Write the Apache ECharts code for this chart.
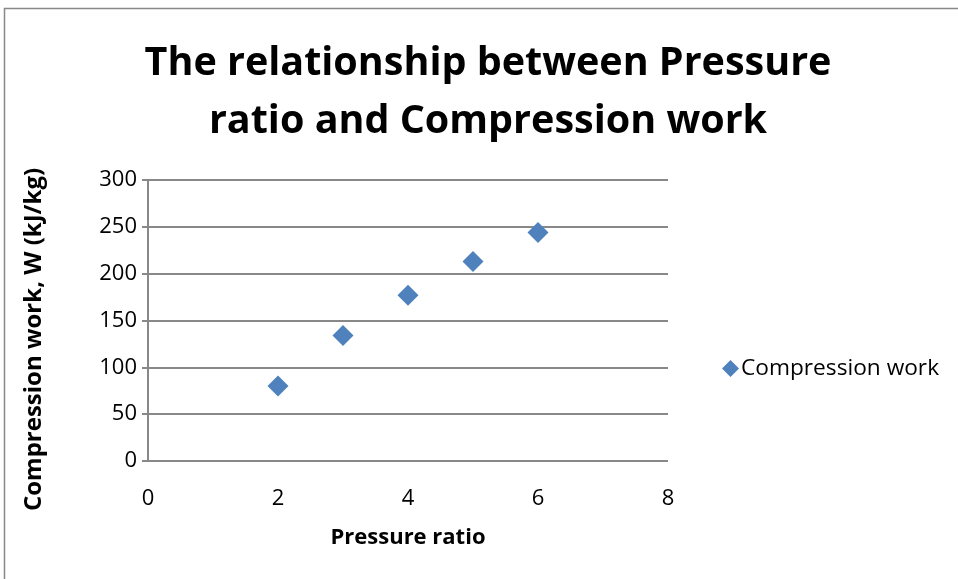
<!DOCTYPE html>
<html><head><meta charset="utf-8">
<script src="https://cdn.jsdelivr.net/npm/echarts@6/dist/echarts.min.js"></script>
<style>html,body{margin:0;padding:0;background:#fff}#c{width:958px;height:579px}</style>
</head><body><div id="c"></div>
<script>
const pressureRatio = [2, 3, 4, 5, 6];
const compressionWork = [80, 134, 177, 213, 244];
const seriesName = 'Compression work';
const titleText = 'The relationship between Pressure\nratio and Compression work';
const xName = 'Pressure ratio';
const yName = 'Compression work, W (kJ/kg)';

const chart = echarts.init(document.getElementById('c'), null, {renderer: 'canvas'});
const font = 'Open Sans';
chart.setOption({
  animation: false,
  backgroundColor: '#fff',
  graphic: [{type: 'rect', shape: {x: 4.5, y: 8.5, width: 1000, height: 1000}, style: {fill: 'none', stroke: '#888', lineWidth: 1.5}, z: -1}],
  title: {text: titleText, left: 483, top: 30, textAlign: 'center',
    textStyle: {fontFamily: font, fontWeight: 'bold', fontSize: 39.5, lineHeight: 58, color: '#000'}},
  legend: {data: [{name: seriesName, icon: 'diamond'}], left: 717, top: 352, itemWidth: 17, itemHeight: 17, itemGap: 4,
    textStyle: {fontFamily: font, fontSize: 22.7, color: '#000', padding: [0,0,0,-3]}},
  grid: {left: 148, right: 290, top: 180, bottom: 118},
  xAxis: {type: 'value', min: 0, max: 8, interval: 2, name: xName, nameLocation: 'middle', nameGap: 66,
    nameTextStyle: {fontFamily: font, fontWeight: 'bold', fontSize: 22, color: '#000'},
    axisLine: {show: false}, axisTick: {show: false}, splitLine: {show: false},
    axisLabel: {fontFamily: font, fontSize: 22, color: '#000', margin: 27}},
  yAxis: {type: 'value', min: 0, max: 300, interval: 50, name: yName, nameLocation: 'middle', nameGap: 102,
    nameTextStyle: {fontFamily: font, fontWeight: 'bold', fontSize: 24, color: '#000', padding: [0, 38, 0, 0]},
    axisLine: {show: true, lineStyle: {color: '#888', width: 2}},
    axisTick: {show: true, length: 6, lineStyle: {color: '#888', width: 2}},
    splitLine: {show: true, lineStyle: {color: '#888', width: 2}},
    axisLabel: {fontFamily: font, fontSize: 22, color: '#000', margin: 11}},
  series: [{name: seriesName, type: 'scatter', symbol: 'diamond', symbolSize: 21,
    itemStyle: {color: '#4f81bd', opacity: 1}, data: pressureRatio.map((x, i) => [x, compressionWork[i]])}]
});
</script></body></html>
